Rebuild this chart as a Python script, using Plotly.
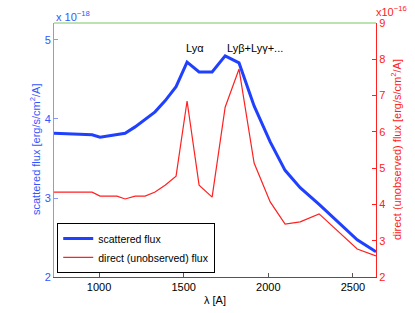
import plotly.graph_objects as go

# wavelength grid [A]
lam = [734, 959, 1006, 1106, 1154, 1213, 1272, 1331, 1390, 1455, 1520,
       1591, 1668, 1745, 1827, 1916, 2011, 2099, 2188, 2300, 2525, 2636]
# scattered flux [1e-18 erg/s/cm2/A]
scattered = [3.82, 3.80, 3.77, 3.80, 3.82, 3.90, 3.99, 4.09, 4.23, 4.41, 4.72,
             4.595, 4.595, 4.80, 4.71, 4.165, 3.71, 3.35, 3.13, 2.92, 2.47, 2.32]
# direct (unobserved) flux [1e-16 erg/s/cm2/A]
direct = [4.34, 4.34, 4.23, 4.23, 4.15, 4.23, 4.23, 4.34, 4.53, 4.78, 6.85,
          4.53, 4.20, 6.68, 7.73, 5.14, 4.07, 3.46, 3.52, 3.74, 2.77, 2.58]

xticks = [1000, 1500, 2000, 2500]
yticks_left = [2, 3, 4, 5]
yticks_right = [2, 3, 4, 5, 6, 7, 8, 9]

FONT = "Liberation Sans, Arial, Helvetica, sans-serif"
BLUE_LINE = "#2040ff"
BLUE_AX = "#8c96ff"
BLUE_TXT = "#3355ff"
RED = "#ff2020"

fig = go.Figure()
fig.add_trace(go.Scatter(x=lam, y=scattered, mode="lines", name="scattered flux",
                         line=dict(color=BLUE_LINE, width=3), yaxis="y"))
fig.add_trace(go.Scatter(x=lam, y=direct, mode="lines", name="direct (unobserved) flux",
                         line=dict(color=RED, width=1.2), yaxis="y2"))

fig.update_layout(
    width=415, height=313,
    margin=dict(l=54, r=39, t=23, b=36, autoexpand=False),
    paper_bgcolor="white", plot_bgcolor="white",
    font=dict(family=FONT, size=11, color="black"),
    showlegend=True,
    legend=dict(x=0.01, y=0.016, xanchor="left", yanchor="bottom",
                bgcolor="white", bordercolor="black", borderwidth=1,
                font=dict(size=10.5), tracegroupgap=0, itemwidth=30),
    xaxis=dict(range=[734, 2636], tickvals=xticks, ticks="inside", ticklen=4,
               tickcolor="#555", showline=True, linecolor="#555", linewidth=1,
               showgrid=False, zeroline=False, tickfont=dict(size=11),
               title=dict(text="λ [A]", standoff=4, font=dict(size=11))),
    yaxis=dict(range=[2, 5.215], tickvals=yticks_left, ticks="inside", ticklen=4,
               tickcolor=BLUE_AX, showline=True, linecolor=BLUE_AX, linewidth=1,
               showgrid=False, zeroline=False,
               tickfont=dict(size=11, color=BLUE_TXT)),
    yaxis2=dict(range=[2, 9], tickvals=yticks_right, ticks="inside", ticklen=4,
                tickcolor=RED, showline=True, linecolor=RED, linewidth=1,
                overlaying="y", side="right", anchor="x",
                showgrid=False, zeroline=False,
                tickfont=dict(size=11, color=RED)),
)

# green top border
fig.add_shape(type="line", xref="paper", yref="paper", x0=0, x1=1, y0=1, y1=1,
              line=dict(color="#78c864", width=1))

# axis titles
fig.add_annotation(text="scattered flux [erg/s/cm<sup>2</sup>/A]", xref="paper", yref="paper",
                   x=0, y=0.5, xanchor="center", yanchor="middle", xshift=-19,
                   textangle=-90, showarrow=False, font=dict(size=11, color=BLUE_TXT))
fig.add_annotation(text="direct (unobserved) flux [erg/s/cm<sup>2</sup>/A]", xref="paper", yref="paper",
                   x=1, y=0.5, xanchor="center", yanchor="middle", xshift=20,
                   textangle=-90, showarrow=False, font=dict(size=11, color=RED))

fig.add_annotation(text="x 10<sup>−18</sup>", xref="paper", yref="paper", x=0, y=1,
                   xanchor="left", yanchor="bottom", showarrow=False, yshift=-2,
                   font=dict(size=11, color=BLUE_TXT))
fig.add_annotation(text="x10<sup>−16</sup>", xref="paper", yref="paper", x=1, y=1,
                   xanchor="left", yanchor="bottom", showarrow=False, xshift=-2, yshift=3,
                   font=dict(size=11, color=RED))
fig.add_annotation(text="Lyα", xref="x", yref="y", x=1500, y=4.9,
                   xanchor="left", yanchor="middle", showarrow=False,
                   font=dict(size=11, color="black"))
fig.add_annotation(text="Lyβ+Lyγ+...", xref="x", yref="y", x=1745, y=4.9,
                   xanchor="left", yanchor="middle", showarrow=False,
                   font=dict(size=11, color="black"))

fig.write_html("out.html", config={"displayModeBar": False},
               post_script="document.body.style.margin='0';")
